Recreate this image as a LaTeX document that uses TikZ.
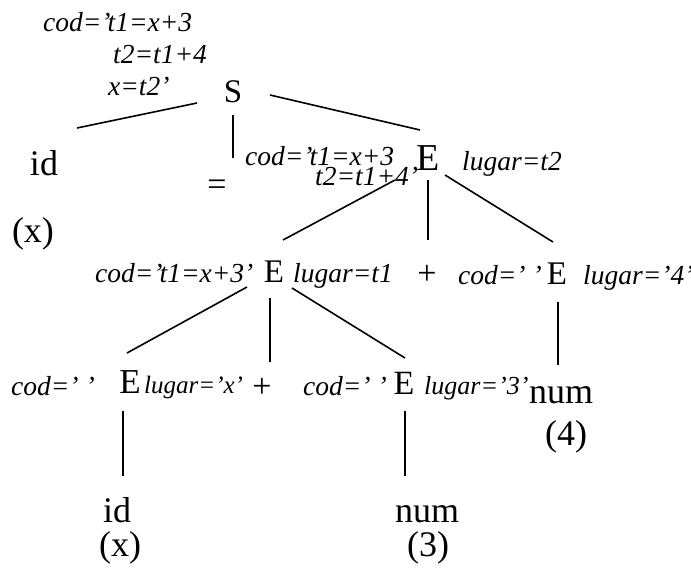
\documentclass[tikz,border=0pt]{standalone}
\usepackage{fontspec}
\setmainfont{Liberation Serif}
\begin{document}
\begin{tikzpicture}[x=1pt,y=-1pt,
  tn/.style={inner sep=0pt, anchor=base, font=\fontsize{36}{40}\selectfont},
  sym/.style={inner sep=0pt, anchor=base, font=\fontsize{33}{36}\selectfont},
  op/.style={inner sep=0pt, anchor=center, font=\fontsize{34}{38}\selectfont},
  ann/.style={inner sep=0pt, anchor=base west, font=\fontsize{27.5}{29}\selectfont\itshape},
  edge/.style={line width=1.6pt}]
\useasboundingbox (0,0) rectangle (691,568);
% top annotation of S (base = last line)
\node[ann, align=left, font=\fontsize{27.5}{32}\selectfont\itshape] (codS) at (43,95)
  {cod=’t1=x+3\\\hspace*{70pt}t2=t1+4\\\hspace*{65pt}x=t2’};
\node[sym] (S) at (233,102) {S};
% level 1
\node[tn] (id1) at (44,175) {id};
\node[tn] (px1) at (33,242) {(x)};
\node[op] (eq) at (217,188) {=};
\node[ann, align=left, font=\fontsize{27.5}{17}\selectfont\itshape] (codE1) at (245,185)
  {cod=’t1=x+3\\\hspace*{70pt}t2=t1+4’};
\node[tn, font=\fontsize{38}{42}\selectfont] (E1) at (428,170) {E};
\node[ann] (lugE1) at (462,170) {lugar=t2};
% level 2
\node[ann] (codE2) at (95,282) {cod=’t1=x+3’};
\node[sym] (E2) at (274,282) {E};
\node[ann] (lugE2) at (293,282) {lugar=t1};
\node[op] (plus1) at (427,275) {+};
\node[ann] (codE3) at (458,284) {cod=’ ’};
\node[sym] (E3) at (557,284) {E};
\node[ann] (lugE3) at (583,284) {lugar=’4’};
% level 3
\node[ann] (codE4) at (11,395) {cod=’ ’};
\node[tn, font=\fontsize{35}{38}\selectfont] (E4) at (130,393) {E};
\node[ann, font=\fontsize{25}{27}\selectfont\itshape] (lugE4) at (144,393) {lugar=’x’};
\node[op] (plus2) at (262,388) {+};
\node[ann] (codE5) at (303,395) {cod=’ ’};
\node[tn, font=\fontsize{34}{37}\selectfont] (E5) at (404,394) {E};
\node[ann, font=\fontsize{26}{28}\selectfont\itshape] (lugE5) at (424,394) {lugar=’3’};
\node[tn] (num1) at (561,403) {num};
\node[tn] (p4) at (566,445) {(4)};
% leaves
\node[tn] (id2) at (117,522) {id};
\node[tn] (px2) at (120,556) {(x)};
\node[tn] (num2) at (427,522) {num};
\node[tn] (p3) at (428,556) {(3)};
% connectors
\draw[edge] ([shift={(-36,1)}]S.base) -- ([shift={(33,-47)}]id1.base);
\draw[edge] ([shift={(0,13)}]S.base) -- ([shift={(16,-30)}]eq.center);
\draw[edge] ([shift={(37,-7)}]S.base) -- ([shift={(-8,-40)}]E1.base);
\draw[edge] ([shift={(-33,10)}]E1.base) -- ([shift={(9,-42)}]E2.base);
\draw[edge] ([shift={(0,10)}]E1.base) -- ([shift={(1,-35)}]plus1.center);
\draw[edge] ([shift={(17,5)}]E1.base) -- ([shift={(-4,-42)}]E3.base);
\draw[edge] ([shift={(-27,5)}]E2.base) -- ([shift={(-3,-40)}]E4.base);
\draw[edge] ([shift={(-4,16)}]E2.base) -- ([shift={(8,-26)}]plus2.center);
\draw[edge] ([shift={(18,6)}]E2.base) -- ([shift={(1,-36)}]E5.base);
\draw[edge] ([shift={(1,18)}]E3.base) -- ([shift={(-3,-38)}]num1.base);
\draw[edge] ([shift={(-7,18)}]E4.base) -- ([shift={(6,-46)}]id2.base);
\draw[edge] ([shift={(1,17)}]E5.base) -- ([shift={(-22,-46)}]num2.base);
\end{tikzpicture}
\end{document}
